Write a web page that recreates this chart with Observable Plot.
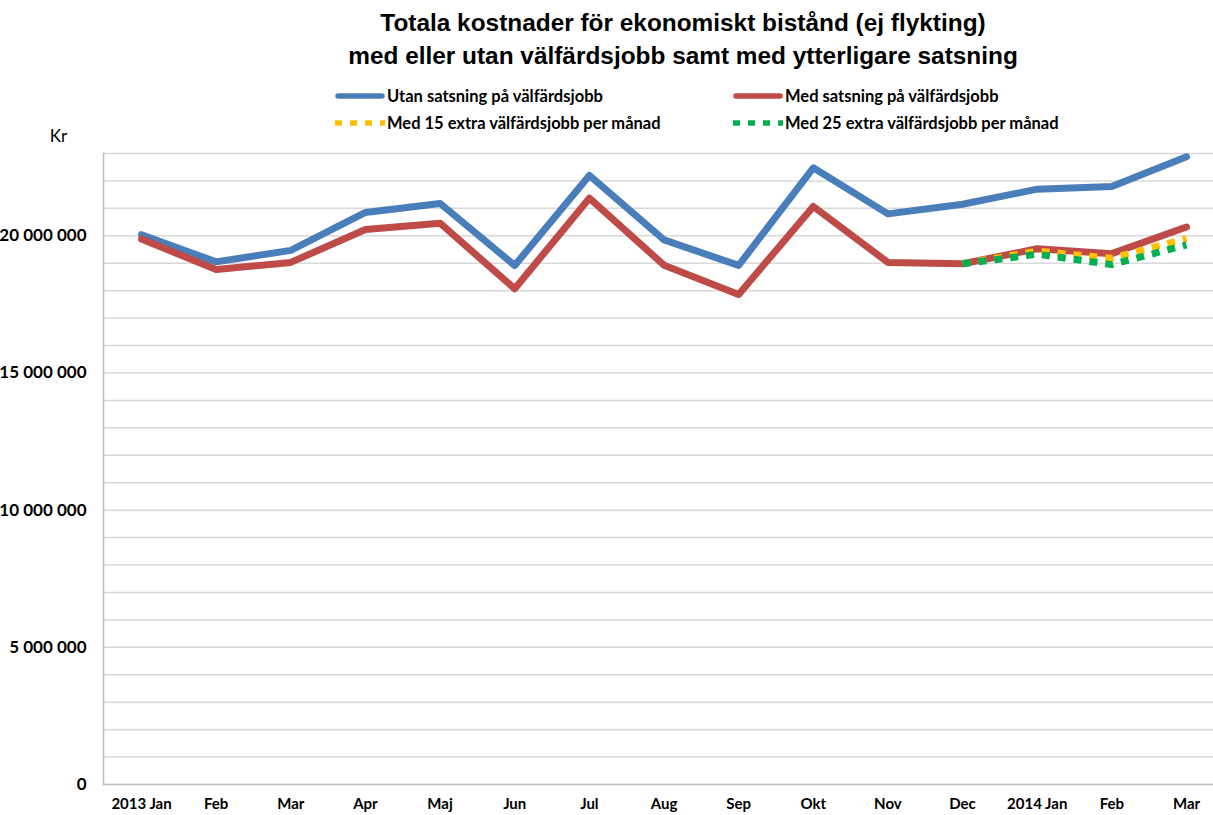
<!DOCTYPE html>
<html>
<head>
<meta charset="utf-8">
<script src="https://cdn.jsdelivr.net/npm/d3@7"></script>
<script src="https://cdn.jsdelivr.net/npm/@observablehq/plot@0.6"></script>
<style>
  html, body { margin: 0; padding: 0; background: #fff; }
  #wrap { position: relative; width: 1213px; height: 815px; overflow: hidden; }
  #title { box-sizing: border-box; width: 1213px; height: 78px; padding-left: 153px; padding-top: 6px;
    text-align: center; font-family: "Liberation Sans", Arial, sans-serif; font-weight: bold;
    font-size: 24.4px; line-height: 33px; color: #000; }
  .leg { position: absolute; display: flex; align-items: center; height: 20px;
    font-family: Lato, "Open Sans", sans-serif; font-weight: bold; font-size: 16.5px; color: #000; white-space: nowrap; }
  .leg svg { margin-right: 2px; }
</style>
</head>
<body>
<div id="wrap">
  <div id="title">Totala kostnader för ekonomiskt bistånd (ej flykting)<br>med eller utan välfärdsjobb samt med ytterligare satsning</div>
</div>
<script>
// ---- data ----
const periods = ["2013-01","2013-02","2013-03","2013-04","2013-05","2013-06","2013-07","2013-08","2013-09","2013-10","2013-11","2013-12","2014-01","2014-02","2014-03"];
const tickLabels = ["2013 Jan","Feb","Mar","Apr","Maj","Jun","Jul","Aug","Sep","Okt","Nov","Dec","2014 Jan","Feb","Mar"];
const utanSatsning = [20.04e6, 19.05e6, 19.47e6, 20.85e6, 21.18e6, 18.92e6, 22.2e6, 19.85e6, 18.92e6, 22.48e6, 20.8e6, 21.15e6, 21.7e6, 21.8e6, 22.88e6];
const medSatsning  = [19.88e6, 18.77e6, 19.03e6, 20.23e6, 20.46e6, 18.07e6, 21.37e6, 18.93e6, 17.86e6, 21.07e6, 19.03e6, 18.98e6, 19.53e6, 19.35e6, 20.32e6];
const med15extra   = [null, null, null, null, null, null, null, null, null, null, null, 18.98e6, 19.44e6, 19.18e6, 19.9e6];
const med25extra   = [null, null, null, null, null, null, null, null, null, null, null, 18.98e6, 19.33e6, 18.95e6, 19.67e6];
const seriesNames  = ["Utan satsning på välfärdsjobb", "Med satsning på välfärdsjobb", "Med 15 extra välfärdsjobb per månad", "Med 25 extra välfärdsjobb per månad"];
const seriesColors = ["#4a7ebb", "#be4b48", "#ffc000", "#00b050"];
const yTicks = [0, 5e6, 10e6, 15e6, 20e6];
const yGrid = d3.range(0, 23e6 + 1, 1e6);

// ---- build ----
const seriesValues = [utanSatsning, medSatsning, med15extra, med25extra];
const dashed = [false, false, true, true];
const rows = seriesValues.map((vals, s) => periods.map((p, i) => ({period: p, value: vals[i], series: s})));

const fmt = v => d3.format(",")(v).replace(/,/g, "\u00a0");

const lineMarks = rows.map((r, s) => Plot.line(r.filter(d => d.value != null), {
  x: "period", y: "value", stroke: seriesColors[s], strokeWidth: 7,
  strokeLinecap: dashed[s] ? "butt" : "round", strokeLinejoin: "round",
  strokeDasharray: dashed[s] ? "8,8" : null
}));

const chart = Plot.plot({
  width: 1213, height: 737,
  marginTop: 75, marginBottom: 31, marginLeft: 103, marginRight: 0,
  style: {fontFamily: "Lato, 'Open Sans', sans-serif", fontSize: "15px", fontWeight: "bold", color: "#000", background: "transparent"},
  x: {type: "point", domain: periods, range: [141, 1186], padding: 0, round: false},
  y: {domain: [0, 23e6]},
  marks: [
    Plot.ruleY(yGrid, {stroke: "#d9d9d9", strokeWidth: 1.5}),
    Plot.ruleY([0], {stroke: "#bfbfbf", strokeWidth: 1.5}),
    Plot.frame({anchor: "left", stroke: "#bfbfbf", strokeWidth: 1.5}),
    Plot.axisY({ticks: yTicks, tickSize: 0, tickPadding: 17, tickFormat: fmt, label: null, fill: "#000", fontSize: 17}),
    Plot.axisX({tickSize: 0, tickPadding: 14, tickFormat: (d) => tickLabels[periods.indexOf(d)], label: null, fill: "#000", fontSize: 15}),
    Plot.text(["Kr"], {frameAnchor: "top-left", dx: -45, dy: -24, text: d => d, fontSize: 17, fontWeight: "normal", textAnchor: "middle", fill: "#000"}),
    ...lineMarks
  ]
});
chart.style.display = "block";
document.getElementById("wrap").appendChild(chart);

// ---- legend ----
const legPos = [[335, 86], [733, 86], [335, 113], [733, 113]];
seriesNames.forEach((name, s) => {
  const div = document.createElement("div");
  div.className = "leg";
  div.style.left = legPos[s][0] + "px";
  div.style.top = legPos[s][1] + "px";
  const sw = d3.create("svg").attr("width", 50).attr("height", 10);
  sw.append("line").attr("x1", dashed[s] ? 0 : 3).attr("x2", dashed[s] ? 50 : 47).attr("y1", 5).attr("y2", 5)
    .attr("stroke", seriesColors[s]).attr("stroke-width", 5.5)
    .attr("stroke-linecap", dashed[s] ? "butt" : "round")
    .attr("stroke-dasharray", dashed[s] ? "7,8" : null);
  div.appendChild(sw.node());
  const t = document.createElement("span");
  t.textContent = name;
  div.appendChild(t);
  document.getElementById("wrap").appendChild(div);
});
</script>
</body>
</html>
